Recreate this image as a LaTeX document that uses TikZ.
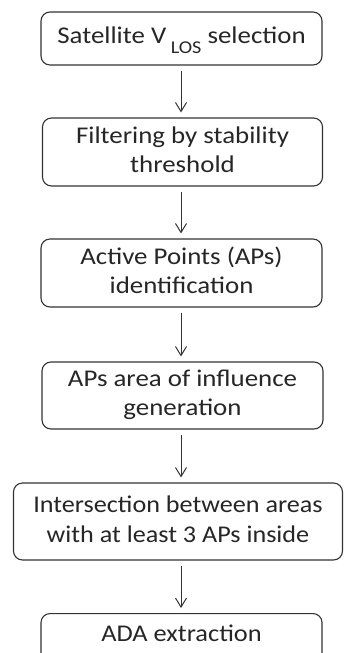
\documentclass[tikz,border=0pt]{standalone}
\usepackage{graphicx}
\usepackage{fontspec}
\setmainfont{Carlito}
\usetikzlibrary{arrows.meta}
\newcommand{\sx}[2][1.12]{\scalebox{#1}[1]{\begin{tabular}{@{}c@{}}#2\end{tabular}}}
\begin{document}
\begin{tikzpicture}[x=1pt,y=-1pt,
  stepbox/.style={draw=black!80, line width=1.1pt, rounded corners=9pt, align=center,
    inner sep=0pt, text=black!85, font=\fontsize{24}{29}\selectfont},
  flow/.style={draw=black!80, line width=1pt, -{Straight Barb[length=9pt,width=11pt]}, shorten <=5pt, shorten >=5pt}]
\useasboundingbox (0,0) rectangle (344,653);
\clip (0,0) rectangle (344,653);
\node[stepbox, minimum width=281pt, minimum height=53pt] (b1) at (181.5,38.5) {\sx{Satellite V\,\raisebox{-0.4em}{\fontsize{18}{20}\selectfont LOS} selection}};
\node[stepbox, minimum width=280pt, minimum height=68pt] (b2) at (182.5,152) {\sx{Filtering by stability\\threshold}};
\node[stepbox, minimum width=281pt, minimum height=68pt] (b3) at (181.5,273) {\sx{Active Points (APs)\\identification}};
\node[stepbox, minimum width=281pt, minimum height=67pt] (b4) at (182.5,395.5) {\sx{APs area of influence\\generation}};
\node[stepbox, minimum width=329pt, minimum height=77pt, font=\fontsize{24}{30}\selectfont] (b5) at (178,521.5) {\sx[1.09]{Intersection between areas\\with at least 3 APs inside}};
\node[stepbox, minimum width=281pt, minimum height=68pt, anchor=north] (b6) at (181.5,613) {};
\node[text=black!85, font=\fontsize{24}{29}\selectfont, anchor=base, inner sep=0pt] (t6) at (181.5,642) {\sx[1.1]{ADA extraction}};
\draw[flow] (b1.south -| 181,0) -- (b2.north -| 181,0);
\draw[flow] (b2.south -| 181,0) -- (b3.north -| 181,0);
\draw[flow] (b3.south -| 181,0) -- (b4.north -| 181,0);
\draw[flow] (b4.south -| 181,0) -- (b5.north -| 181,0);
\draw[flow] (b5.south -| 181,0) -- (b6.north -| 181,0);
\end{tikzpicture}
\end{document}
